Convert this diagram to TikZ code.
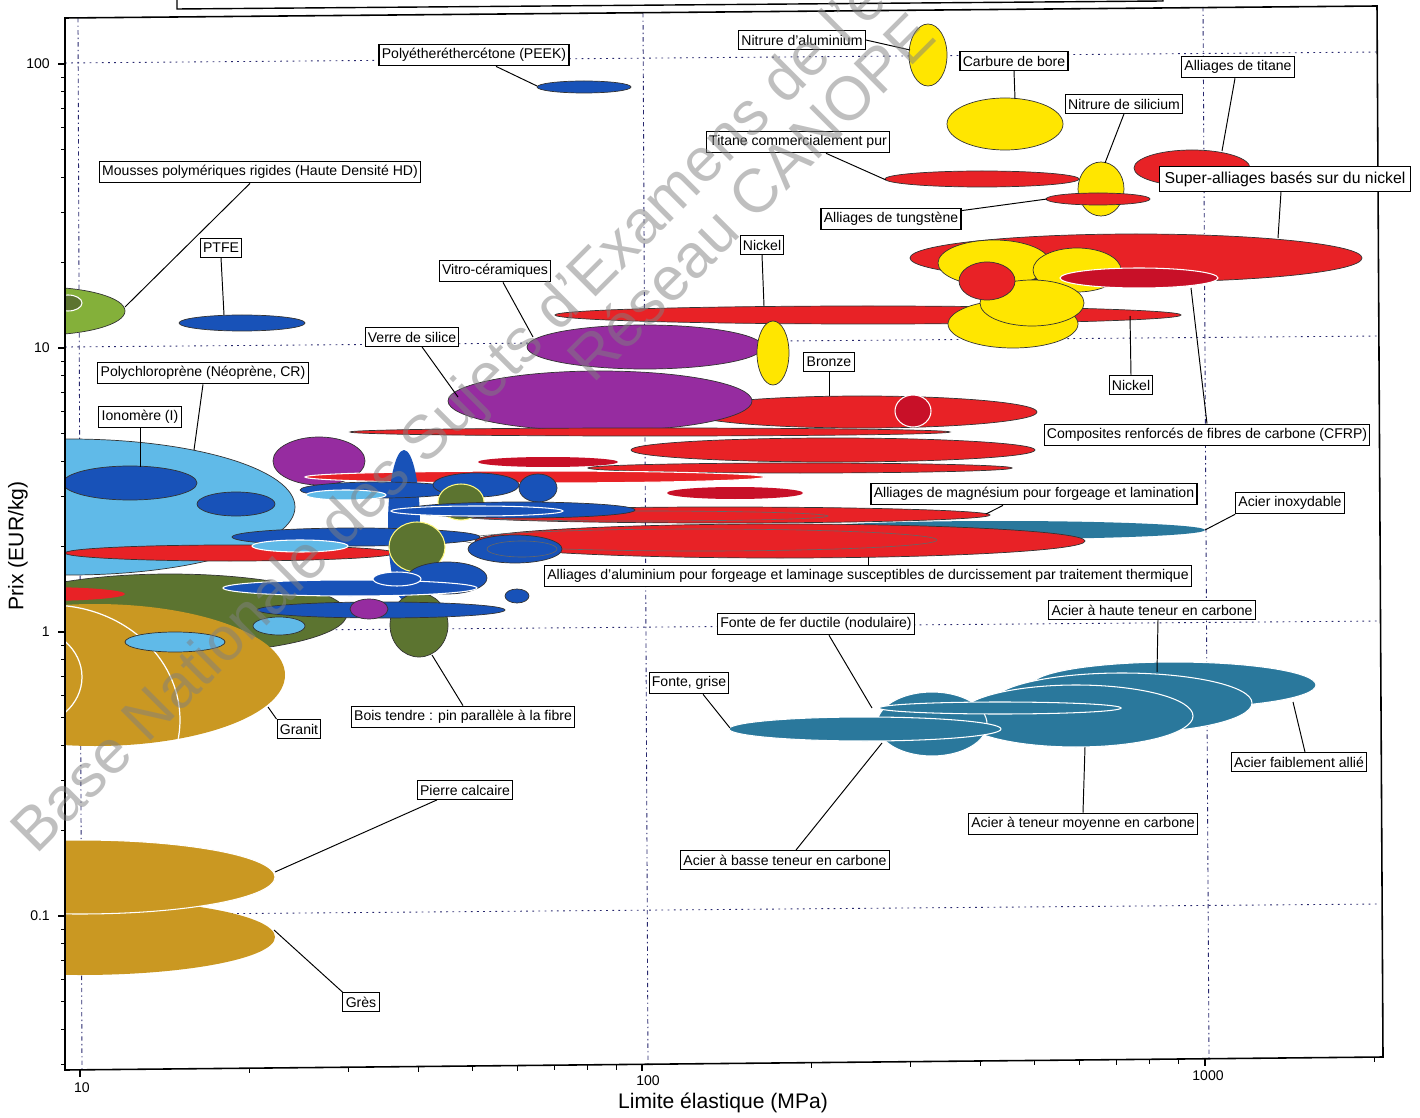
\documentclass[tikz,border=0pt]{standalone}
\usepackage{fontspec}
\setmainfont{Liberation Sans}
\usetikzlibrary{calc}

\definecolor{cRed}{RGB}{232,34,38}
\definecolor{cDarkRed}{RGB}{200,16,40}
\definecolor{cYellow}{RGB}{255,230,0}
\definecolor{cPurple}{RGB}{150,44,160}
\definecolor{cBlue}{RGB}{24,82,184}
\definecolor{cLightBlue}{RGB}{96,186,232}
\definecolor{cOlive}{RGB}{92,116,48}
\definecolor{cFoam}{RGB}{132,176,58}
\definecolor{cGold}{RGB}{202,152,34}
\definecolor{cSteel}{RGB}{42,120,156}
\definecolor{cGrid}{RGB}{40,40,110}

\tikzset{
  mat/.style={draw=black!80, line width=0.4pt},
  matw/.style={draw=white, line width=0.6pt},
  lbl/.style={draw=black, fill=white, line width=0.6pt, inner xsep=1.6pt, inner ysep=2.4pt, font=\fontsize{8}{9}\selectfont},
  lead/.style={line width=0.55pt},
  hgrid/.style={draw=cGrid, line width=0.5pt, dash pattern=on 1pt off 2.5pt},
  vgrid/.style={draw=cGrid, line width=0.5pt, dash pattern=on 2.5pt off 1.8pt on 0.8pt off 1.8pt},
  wm/.style={text=gray, text opacity=0.5, font=\fontsize{35}{35}\selectfont}
}

\begin{document}
\begin{tikzpicture}[x=0.02cm,y=-0.02cm]
\useasboundingbox (0,0) rectangle (1420,1118);

% title box (cut off)
\draw[line width=0.8pt] (177,0) -- (177,9) -- (1163,1) -- (1163,0);

% grid
\draw[hgrid] (65,63) -- (1380,52);
\draw[hgrid] (65,347) -- (1380,336);
\draw[hgrid] (65,632) -- (1380,621);
\draw[hgrid] (65,915) -- (1380,904);
\draw[vgrid] (78,18) -- (82,1069);
\draw[vgrid] (643,13) -- (648,1064);
\draw[vgrid] (1203,7) -- (1209,1058);

% materials
\begin{scope}
\clip (65,18) -- (1377,6) -- (1383,1057) -- (65,1070) -- cycle;
% metals and ceramics (top)
\filldraw[fill=cRed, mat] (1136,258) ellipse [x radius=226, y radius=24];
\coordinate (kSuper) at (1278,238);
\filldraw[fill=cRed, mat] (1192,168) ellipse [x radius=58, y radius=18];
\coordinate (kTiAll) at (1222,151);
\filldraw[fill=cRed, mat] (982,179) ellipse [x radius=97, y radius=8];
\coordinate (kTiCP) at (886,180);
\filldraw[fill=cYellow, mat] (1005,124) ellipse [x radius=58, y radius=26];
\coordinate (kB4C) at (1015,99);
\filldraw[fill=cYellow, mat] (928,55) ellipse [x radius=19, y radius=31];
\coordinate (kAlN) at (910,50);
\filldraw[fill=cYellow, mat] (1101,189) ellipse [x radius=23, y radius=27];
\coordinate (kSi3N4) at (1105,163);
\filldraw[fill=cRed, mat] (1098,199) ellipse [x radius=52, y radius=6];
\coordinate (kW) at (1047,199);
\filldraw[fill=cBlue, mat] (584,87) ellipse [x radius=47, y radius=6];
\coordinate (kPEEK) at (537,86);
\filldraw[fill=cRed, mat] (868,315) ellipse [x radius=313, y radius=9];
\coordinate (kNiA) at (764,306);
\coordinate (kNiB) at (1130,316);
\filldraw[fill=cYellow, mat] (1013,324) ellipse [x radius=65, y radius=24];
\filldraw[fill=cYellow, mat] (994,263) ellipse [x radius=56, y radius=23];
\filldraw[fill=cYellow, mat] (1077,270) ellipse [x radius=44, y radius=22];
\filldraw[fill=cYellow, mat] (1032,303) ellipse [x radius=52, y radius=23];
\filldraw[fill=cRed, mat] (987,281) ellipse [x radius=28, y radius=19];
\filldraw[fill=cDarkRed, matw] (1139,278) ellipse [x radius=79, y radius=10];
\coordinate (kCFRP) at (1191,288);

% foams, PTFE
\filldraw[fill=cFoam, mat] (40,311) ellipse [x radius=85, y radius=24];
\filldraw[fill=cOlive, matw] (68,303) ellipse [x radius=14, y radius=8];
\coordinate (kFoam) at (125,307);
\filldraw[fill=cBlue, mat] (242,323) ellipse [x radius=63, y radius=8];
\coordinate (kPTFE) at (224,315);

% glasses, bronze
\filldraw[fill=cPurple, mat] (645,347) ellipse [x radius=118, y radius=22];
\coordinate (kVitro) at (533,337);
\filldraw[fill=cRed, mat] (862,412) ellipse [x radius=175, y radius=16];
\coordinate (kBronze) at (829,396);
\filldraw[fill=cYellow, mat] (773,353) ellipse [x radius=16, y radius=32];
\filldraw[fill=cPurple, mat] (600,401) ellipse [x radius=152, y radius=30];
\coordinate (kSilice) at (458,397);
\filldraw[fill=cDarkRed, matw] (913,411) ellipse [x radius=18, y radius=16];
\filldraw[fill=cRed, mat] (650,432) ellipse [x radius=300, y radius=4];
\filldraw[fill=cRed, mat] (833,450) ellipse [x radius=202, y radius=12];
\fill[cDarkRed] (548,462) ellipse [x radius=70, y radius=5];
\filldraw[fill=cRed, mat] (800,468) ellipse [x radius=212, y radius=5];
\fill[cDarkRed] (735,493) ellipse [x radius=68, y radius=6];

% polymers and light alloys
\filldraw[fill=cLightBlue, mat] (70,507) ellipse [x radius=225, y radius=68];
\coordinate (kNeo) at (194,450);
\filldraw[fill=cBlue, mat] (130,483) ellipse [x radius=67, y radius=17];
\coordinate (kIono) at (140,467);
\filldraw[fill=cBlue, mat] (236,504) ellipse [x radius=39, y radius=12];
\filldraw[fill=cPurple, mat] (319,461) ellipse [x radius=46, y radius=24];
\filldraw[fill=cRed, matw] (535,477) ellipse [x radius=230, y radius=6];
\fill[cSteel] (1000,530) ellipse [x radius=205, y radius=9];
\coordinate (kInox) at (1205,530);
\filldraw[fill=cRed, mat] (720,515) ellipse [x radius=270, y radius=8];
\draw[black!60, line width=0.35pt] (640,516) ellipse [x radius=188, y radius=5];
\coordinate (kMg) at (986,514);
\filldraw[fill=cRed, mat] (780,541) ellipse [x radius=305, y radius=17];
\draw[black!60, line width=0.35pt] (700,540) ellipse [x radius=237, y radius=11];
\coordinate (kAl) at (868,557);
\filldraw[fill=cRed, mat] (230,553) ellipse [x radius=165, y radius=8];
\fill[cBlue] (404,525) ellipse [x radius=16, y radius=75];
\filldraw[fill=cBlue, mat] (380,490) ellipse [x radius=80, y radius=8];
\filldraw[fill=cLightBlue, matw] (346,495) ellipse [x radius=40, y radius=5];
\filldraw[fill=cBlue, mat] (476,485) ellipse [x radius=43, y radius=12];
\filldraw[fill=cBlue, mat] (538,488) ellipse [x radius=19, y radius=14];
\filldraw[fill=cOlive, draw=yellow!50!white, line width=0.6pt] (461,502) ellipse [x radius=23, y radius=18];
\filldraw[fill=cBlue, mat] (520,510) ellipse [x radius=115, y radius=8];
\filldraw[fill=cBlue, matw] (477,511) ellipse [x radius=86, y radius=5];
\filldraw[fill=cBlue, mat] (356,537) ellipse [x radius=124, y radius=9];
\filldraw[fill=cLightBlue, matw] (300,546) ellipse [x radius=48, y radius=6];
\filldraw[fill=cBlue, mat] (515,549) ellipse [x radius=47, y radius=14];
\draw[black!60, line width=0.35pt] (522,549) ellipse [x radius=35, y radius=8];
\filldraw[fill=cOlive, draw=yellow!50!white, line width=0.6pt] (417,547) ellipse [x radius=28, y radius=25];
\filldraw[fill=cBlue, mat] (447,578) ellipse [x radius=40, y radius=16];
\filldraw[fill=cOlive, mat] (170,614) ellipse [x radius=177, y radius=40];
\fill[cRed] (40,594) ellipse [x radius=85, y radius=7];
\filldraw[fill=cOlive, mat] (419,625) ellipse [x radius=29, y radius=32];
\coordinate (kBois) at (432,655);
\filldraw[fill=cBlue, matw] (350,588) ellipse [x radius=127, y radius=8];
\filldraw[fill=cBlue, matw] (397,579) ellipse [x radius=24, y radius=7];
\filldraw[fill=cBlue, mat] (517,596) ellipse [x radius=12, y radius=7];
\filldraw[fill=cBlue, mat] (381,610) ellipse [x radius=124, y radius=8];
\filldraw[fill=cPurple, mat] (369,609) ellipse [x radius=19, y radius=10];
\filldraw[fill=cLightBlue, mat] (279,626) ellipse [x radius=26, y radius=9];

% stones
\fill[cGold] (95,675) ellipse [x radius=190, y radius=71];
\begin{scope}
\clip (95,675) ellipse [x radius=190, y radius=71];
\draw[white, line width=0.7pt] (50,720) ellipse [x radius=130, y radius=115];
\draw[white, line width=0.7pt] (25,677) ellipse [x radius=57, y radius=50];
\end{scope}
\coordinate (kGranit) at (268,707);
\filldraw[fill=cLightBlue, mat] (175,642) ellipse [x radius=50, y radius=10];
\fill[cGold] (80,937) ellipse [x radius=195, y radius=38];
\coordinate (kGres) at (274,930);
\filldraw[fill=cGold, matw] (80,877) ellipse [x radius=195, y radius=37];
\coordinate (kCalc) at (275,872);

% steels and cast irons
\filldraw[fill=cSteel, matw] (1174,685) ellipse [x radius=142, y radius=23];
\coordinate (kFaible) at (1293,702);
\filldraw[fill=cSteel, matw] (1122,703) ellipse [x radius=130, y radius=30];
\coordinate (kHaute) at (1157,672);
\filldraw[fill=cSteel, matw] (1076,716) ellipse [x radius=117, y radius=31];
\coordinate (kMoy) at (1085,747);
\filldraw[fill=cSteel, matw] (932,724) ellipse [x radius=55, y radius=32];
\coordinate (kDuct) at (872,708);
\filldraw[fill=cSteel, matw] (1000,708) ellipse [x radius=121, y radius=6];
\coordinate (kBasse) at (882,743);
\filldraw[fill=cSteel, matw] (865,729) ellipse [x radius=136, y radius=12];
\coordinate (kGrise) at (730,728);
\end{scope}

% frame
\draw[line width=0.9pt] (65,18) -- (1377,6) -- (1383,1057) -- (65,1070) -- cycle;
\begin{scope}
\clip (30,18) rectangle (66,1070);
\foreach \d in {1200,916,632,348,64}
  \foreach \m in {2,...,9}
    \draw[line width=0.5pt] (65,{\d-284*log10(\m)}) -- ++(-4,0);
\end{scope}
\foreach \yy in {64,348,632,916}
  \draw[line width=0.6pt] (65,\yy) -- ++(-7,0);
\begin{scope}
\clip (65,1040) rectangle (1383,1090);
\foreach \d in {80,642,1205}
  \foreach \m in {2,...,9}
    \draw[line width=0.5pt] ({\d+562*log10(\m)},{1070-0.00986*(\d+562*log10(\m)-65)}) -- ++(0,5);
\end{scope}
\foreach \xx/\yy in {80/1070,642/1064,1205/1059}
  \draw[line width=0.6pt] (\xx,\yy) -- ++(0,7);

% tick labels and axis titles
\node[font=\fontsize{8}{9}\selectfont, anchor=east] (t100) at (56,64) {100};
\node[font=\fontsize{8}{9}\selectfont, anchor=east] (t10) at (56,348) {10};
\node[font=\fontsize{8}{9}\selectfont, anchor=east] (t1) at (56,632) {1};
\node[font=\fontsize{8}{9}\selectfont, anchor=east] (t01) at (56,916) {0.1};
\node[font=\fontsize{8}{9}\selectfont] (x10) at (82,1088) {10};
\node[font=\fontsize{8}{9}\selectfont] (x100) at (648,1081) {100};
\node[font=\fontsize{8}{9}\selectfont] (x1000) at (1208,1076) {1000};
\node[font=\fontsize{12}{13}\selectfont, rotate=90] (ytitle) at (18,546) {Prix (EUR/kg)};
\node[font=\fontsize{12}{13}\selectfont] (xtitle) at (723,1103) {Limite élastique (MPa)};

% labels
\node[lbl] (lPEEK) at (474,55) {Polyétheréthercétone (PEEK)};
\node[lbl] (lAlN) at (802,40) {Nitrure d'aluminium};
\node[lbl] (lB4C) at (1014,61) {Carbure de bore};
\node[lbl] (lSi3N4) at (1124,104) {Nitrure de silicium};
\node[lbl] (lTiAll) at (1238,67) {Alliages de titane};
\node[lbl] (lTiCP) at (798,142) {Titane commercialement pur};
\node[lbl, inner sep=2.8pt, font=\fontsize{9}{10}\selectfont] (lSuper) at (1285,179) {Super-alliages basés sur du nickel};
\node[lbl] (lW) at (891,219) {Alliages de tungstène};
\node[lbl] (lNiA) at (762,245) {Nickel};
\node[lbl] (lFoam) at (260,172) {Mousses polymériques rigides (Haute Densité HD)};
\node[lbl] (lPTFE) at (221,248) {PTFE};
\node[lbl] (lVitro) at (495,271) {Vitro-céramiques};
\node[lbl] (lSilice) at (412,337) {Verre de silice};
\node[lbl] (lBronze) at (829,362) {Bronze};
\node[lbl] (lNeo) at (203,373) {Polychloroprène (Néoprène, CR)};
\node[lbl] (lNiB) at (1131,385) {Nickel};
\node[lbl] (lIono) at (140,417) {Ionomère (I)};
\node[lbl] (lCFRP) at (1207,435) {Composites renforcés de fibres de carbone (CFRP)};
\node[lbl] (lMg) at (1034,494) {Alliages de magnésium pour forgeage et lamination};
\node[lbl] (lInox) at (1290,503) {Acier inoxydable};
\node[lbl] (lAl) at (868,576) {Alliages d'aluminium pour forgeage et laminage susceptibles de durcissement par traitement thermique};
\node[lbl] (lHaute) at (1152,610) {Acier à haute teneur en carbone};
\node[lbl] (lDuct) at (816,624) {Fonte de fer ductile (nodulaire)};
\node[lbl] (lGrise) at (689,683) {Fonte, grise};
\node[lbl] (lBois) at (463,717) {Bois tendre : pin parallèle à la fibre};
\node[lbl] (lGranit) at (299,729) {Granit};
\node[lbl] (lFaible) at (1299,762) {Acier faiblement allié};
\node[lbl] (lCalc) at (465,790) {Pierre calcaire};
\node[lbl] (lMoy) at (1083,824) {Acier à teneur moyenne en carbone};
\node[lbl] (lBasse) at (785,860) {Acier à basse teneur en carbone};
\node[lbl] (lGres) at (361,1002) {Grès};

% leaders
\draw[lead] ($(lPEEK.south)+(22,0)$) -- (kPEEK);
\draw[lead] (lAlN.east) -- (kAlN);
\draw[lead] (lB4C.south) -- (kB4C);
\draw[lead] (lSi3N4.south) -- (kSi3N4);
\draw[lead] ($(lTiAll.south)+(-3,0)$) -- (kTiAll);
\draw[lead] ($(lTiCP.south)+(28,0)$) -- (kTiCP);
\draw[lead] ($(lSuper.south)+(-4,0)$) -- (kSuper);
\draw[lead] ($(lW.north east)+(0,3)$) -- (kW);
\draw[lead] (lNiA.south) -- (kNiA);
\draw[lead] ($(lFoam.south)+(-10,0)$) -- (kFoam);
\draw[lead] (lPTFE.south) -- (kPTFE);
\draw[lead] ($(lVitro.south)+(8,0)$) -- (kVitro);
\draw[lead] ($(lSilice.south)+(10,0)$) -- (kSilice);
\draw[lead] (lBronze.south) -- (kBronze);
\draw[lead] (lNeo.south) -- (kNeo);
\draw[lead] (lNiB.north) -- (kNiB);
\draw[lead] (lIono.south) -- (kIono);
\draw[lead] (lCFRP.north) -- (kCFRP);
\draw[lead] ($(lMg.south)+(-31,0)$) -- (kMg);
\draw[lead] (lInox.south west) -- (kInox);
\draw[lead] (lAl.north) -- (kAl);
\draw[lead] ($(lHaute.south)+(6,0)$) -- (kHaute);
\draw[lead] ($(lDuct.south)+(13,0)$) -- (kDuct);
\draw[lead] ($(lGrise.south)+(14,0)$) -- (kGrise);
\draw[lead] (lBois.north) -- (kBois);
\draw[lead] (lGranit.north west) -- (kGranit);
\draw[lead] ($(lFaible.north)+(6,0)$) -- (kFaible);
\draw[lead] ($(lCalc.south)+(-28,0)$) -- (kCalc);
\draw[lead] (lMoy.north) -- (kMoy);
\draw[lead] ($(lBasse.north)+(11,0)$) -- (kBasse);
\draw[lead] (lGres.north west) -- (kGres);

% watermark
\node[wm, rotate=45] (wmA) at (452,418) {Base Nationale des Sujets d'Examens de l'e};
\node[wm, rotate=45] (wmB) at (750,196) {Réseau CANOPE};
\end{tikzpicture}
\end{document}
